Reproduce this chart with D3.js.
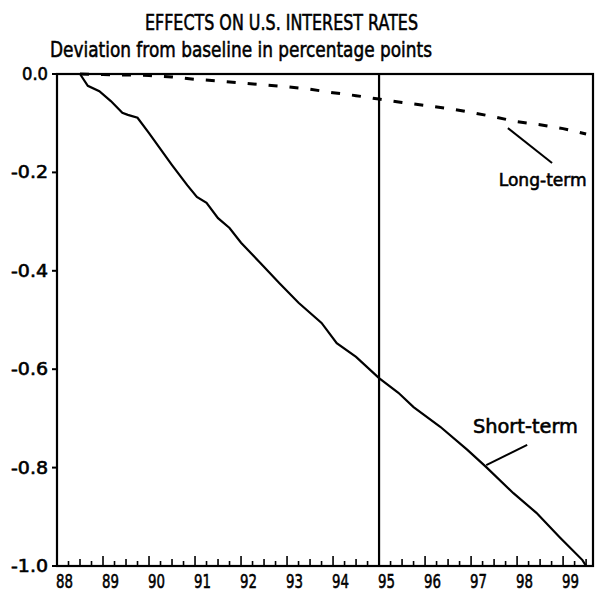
<!DOCTYPE html>
<html>
<head>
<meta charset="utf-8">
<script src="https://cdn.jsdelivr.net/npm/d3@7"></script>
<style>
  body { margin: 0; background: #fff; }
  svg text { font-family: "DejaVu Sans", sans-serif; fill: #000; stroke: #000; stroke-width: 0.6px; }
</style>
</head>
<body>
<svg id="viz" width="596" height="598"></svg>
<script>
const WIDTH = 596;
const HEIGHT = 598;

// short-term rate deviation
const shortYears = [1988.5, 1988.67, 1988.92, 1989.17, 1989.42, 1989.54, 1989.75, 1990.0, 1990.5, 1990.83,
  1991.04, 1991.25, 1991.5, 1991.75, 1992.0, 1992.42, 1992.83, 1993.25, 1993.75, 1994.08,
  1994.5, 1995.0, 1995.42, 1995.75, 1996.33, 1996.92, 1997.33, 1997.92, 1998.42, 1998.92, 1999.42, 1999.5];
const shortValues = [0, -0.024, -0.035, -0.055, -0.079, -0.083, -0.089, -0.12, -0.185, -0.226,
  -0.25, -0.262, -0.293, -0.313, -0.343, -0.384, -0.425, -0.465, -0.506, -0.547,
  -0.575, -0.618, -0.648, -0.677, -0.717, -0.764, -0.799, -0.852, -0.892, -0.941, -0.988, -1.0];

// long-term rate deviation
const longYears = [1988.5, 1989, 1989.5, 1990, 1990.5, 1991, 1991.5, 1992, 1992.5, 1993, 1993.5,
  1994, 1994.5, 1995, 1995.5, 1996, 1996.5, 1997, 1997.5, 1998, 1998.5, 1999, 1999.5];
const longValues = [0, -0.001, -0.002, -0.003, -0.006, -0.011, -0.014, -0.018, -0.022, -0.026, -0.031,
  -0.038, -0.044, -0.051, -0.058, -0.064, -0.07, -0.078, -0.087, -0.097, -0.103, -0.111, -0.122];

const yearTicks = [1988, 1989, 1990, 1991, 1992, 1993, 1994, 1995, 1996, 1997, 1998, 1999];
const yearLabels = ["88", "89", "90", "91", "92", "93", "94", "95", "96", "97", "98", "99"];
const yTicks = [0, -0.2, -0.4, -0.6, -0.8, -1.0];
const yLabels = ["0.0", "-0.2", "-0.4", "-0.6", "-0.8", "-1.0"];
const markerYear = 1995;

const svg = d3.select("#viz");

const x = d3.scaleLinear().domain([1988, 1999.65]).range([57, 593]);
const y = d3.scaleLinear().domain([0, -1]).range([74, 566]);

// titles
svg.append("text")
  .attr("x", 145).attr("y", 30)
  .attr("font-size", 22)
  .attr("textLength", 273).attr("lengthAdjust", "spacingAndGlyphs")
  .text("EFFECTS ON U.S. INTEREST RATES");

svg.append("text")
  .attr("x", 50).attr("y", 57)
  .attr("font-size", 22)
  .attr("textLength", 382).attr("lengthAdjust", "spacingAndGlyphs")
  .text("Deviation from baseline in percentage points");

// frame
const x0 = x.range()[0], x1 = x.range()[1];
const y0 = y(0), y1 = y(-1);
svg.append("rect")
  .attr("x", x0).attr("y", y0)
  .attr("width", x1 - x0).attr("height", y1 - y0)
  .attr("fill", "none").attr("stroke", "#000").attr("stroke-width", 2.2);

// y ticks + labels
yTicks.forEach((v, i) => {
  svg.append("line")
    .attr("x1", x0 - 5).attr("x2", x0)
    .attr("y1", y(v)).attr("y2", y(v))
    .attr("stroke", "#000").attr("stroke-width", 2);
  svg.append("text")
    .attr("x", 48).attr("y", y(v) + 6)
    .attr("text-anchor", "end")
    .attr("font-size", 17)
    .attr("textLength", yLabels[i].length === 3 ? 26 : 37)
    .attr("lengthAdjust", "spacingAndGlyphs")
    .text(yLabels[i]);
});

// x ticks: quarterly, taller at each year
const quarters = d3.range(1988, 1999.6, 0.25);
svg.append("g").selectAll("line")
  .data(quarters)
  .join("line")
  .attr("x1", d => x(d)).attr("x2", d => x(d))
  .attr("y1", y1)
  .attr("y2", d => y1 - (Math.abs(d - Math.round(d)) < 1e-6 ? 10 : (Math.abs(d % 1 - 0.5) < 1e-6 ? 7 : 5)))
  .attr("stroke", "#000").attr("stroke-width", 1.6);

svg.append("g").selectAll("text")
  .data(yearTicks)
  .join("text")
  .attr("x", d => x(d) - 1)
  .attr("y", y1 + 22)
  .attr("font-size", 20)
  .attr("textLength", 17).attr("lengthAdjust", "spacingAndGlyphs")
  .text((d, i) => yearLabels[i]);

// vertical marker
svg.append("line")
  .attr("x1", x(markerYear)).attr("x2", x(markerYear))
  .attr("y1", y0).attr("y2", y1)
  .attr("stroke", "#000").attr("stroke-width", 2.2);

const line = d3.line().x(d => x(d[0])).y(d => y(d[1]));

svg.append("path")
  .datum(shortYears.map((yr, i) => [yr, shortValues[i]]))
  .attr("d", line)
  .attr("fill", "none").attr("stroke", "#000").attr("stroke-width", 2.2);

svg.append("path")
  .datum(longYears.map((yr, i) => [yr, longValues[i]]))
  .attr("d", line)
  .attr("fill", "none").attr("stroke", "#000").attr("stroke-width", 3)
  .attr("stroke-dasharray", "9,12");

// labels with leader lines
svg.append("line")
  .attr("x1", x(1997.8)).attr("y1", y(-0.110))
  .attr("x2", x(1998.76)).attr("y2", y(-0.181))
  .attr("stroke", "#000").attr("stroke-width", 2);
svg.append("text")
  .attr("x", x(1997.6)).attr("y", y(-0.228))
  .attr("font-size", 18)
  .attr("textLength", 88).attr("lengthAdjust", "spacingAndGlyphs")
  .text("Long-term");

svg.append("line")
  .attr("x1", x(1998.22)).attr("y1", y(-0.754))
  .attr("x2", x(1997.33)).attr("y2", y(-0.795))
  .attr("stroke", "#000").attr("stroke-width", 2);
svg.append("text")
  .attr("x", x(1997.04)).attr("y", y(-0.73))
  .attr("font-size", 20)
  .attr("textLength", 105).attr("lengthAdjust", "spacingAndGlyphs")
  .text("Short-term");
</script>
</body>
</html>
